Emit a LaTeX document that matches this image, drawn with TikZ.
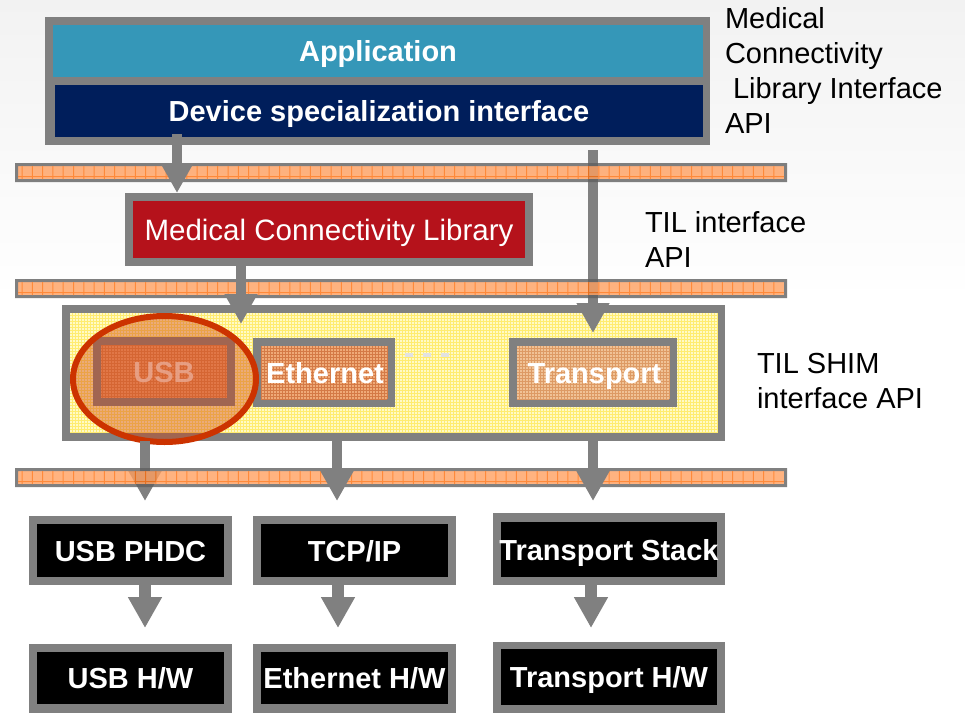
\documentclass[tikz,border=0pt]{standalone}
\usepackage{fontspec}
\setmainfont{Liberation Sans}
\usetikzlibrary{arrows.meta,shapes.geometric}
\definecolor{gry}{HTML}{808080}
\definecolor{appteal}{HTML}{3597B8}
\definecolor{devnavy}{HTML}{001E5B}
\definecolor{mclred}{HTML}{B5121B}
\definecolor{bandfill}{HTML}{FFA060}
\definecolor{bandline}{HTML}{FF6D09}
\definecolor{bandedge}{HTML}{606060}
\definecolor{tilfill}{HTML}{FFFAC6}
\definecolor{tilline}{HTML}{FFEC70}
\definecolor{ethfill}{HTML}{EFAA78}
\definecolor{ethline}{HTML}{D47A46}
\definecolor{trfill}{HTML}{F0C296}
\definecolor{trline}{HTML}{DD9A64}
\definecolor{usbfill}{HTML}{EFA070}
\definecolor{usbline}{HTML}{D9824E}
\definecolor{ringred}{HTML}{CC3300}
\definecolor{ringfill}{HTML}{D04010}
\definecolor{dashgrey}{HTML}{E2E2E2}
\definecolor{bgtop}{HTML}{F2F2F2}
\begin{document}
\begin{tikzpicture}[x=1pt,y=-1pt,
 every node/.style={inner sep=0pt,outer sep=0pt},
 gframe/.style={rectangle,fill=gry},
 inbox/.style={rectangle,text=white,font=\fontsize{29}{35}\selectfont\bfseries,text height=21pt,text depth=0pt},
 lbl/.style={anchor=base west,font=\fontsize{29}{35}\selectfont,text=black},
 barrow/.style={draw=gry,line width=10pt,-{Triangle[width=31pt,length=30pt]}},
 barrowb/.style={draw=gry,line width=12pt,-{Triangle[width=32pt,length=31pt]}},
 band/.style={rectangle,draw=bandedge,line width=3pt,fill=bandfill,minimum width=769pt,minimum height=16pt},
]
\clip (0,0) rectangle (965,712);
\shade[top color=bgtop,bottom color=white] (0,0) rectangle (965,300);

% ---------- top block
\node[gframe,minimum width=665pt,minimum height=128pt] (topF) at (377.5,81) {};
\node[inbox,fill=appteal,minimum width=650pt,minimum height=52pt] (app) at (378,51) {Application};
\node[inbox,fill=devnavy,minimum width=648pt,minimum height=52pt] (dev) at (379,111) {Device specialization interface};

% ---------- MCL
\node[gframe,minimum width=408pt,minimum height=73pt] (mclF) at (329,229.5) {};
\node[inbox,fill=mclred,minimum width=392pt,minimum height=57pt,font=\fontsize{29.5}{35}\selectfont] (mcl) at (329,229.5) {Medical Connectivity Library};

% ---------- TIL block
\node[gframe,minimum width=663pt,minimum height=136pt] (tilF) at (393.5,373) {};
\node[rectangle,fill=tilfill,minimum width=647pt,minimum height=120pt] (til) at (393.5,373) {};
\draw[tilline,line width=0.6pt,step=3pt] (til.south west) grid (til.north east);

% USB
\node[gframe,minimum width=142pt,minimum height=69pt] (usbF) at (164,371.5) {};
\node[rectangle,fill=usbfill,minimum width=126pt,minimum height=53pt] (usbB) at (164,371.5) {};
\draw[usbline,line width=0.6pt,step=3pt] (usbB.south west) grid (usbB.north east);
\node[inbox,text opacity=0.75] (usb) at (164,372) {USB};

% Ethernet
\node[gframe,minimum width=142pt,minimum height=69pt] (ethF) at (324,372.5) {};
\node[rectangle,fill=ethfill,minimum width=126pt,minimum height=53pt] (ethB) at (324,372.5) {};
\draw[ethline,line width=0.6pt,step=3pt] (ethB.south west) grid (ethB.north east);
\node[inbox] (eth) at (325,372.5) {Ethernet};

% Transport
\node[gframe,minimum width=168pt,minimum height=69pt] (trF) at (593,372.5) {};
\node[rectangle,fill=trfill,minimum width=152pt,minimum height=53pt] (trB) at (593,372.5) {};
\draw[trline,line width=0.6pt,step=3pt] (trB.south west) grid (trB.north east);
\node[inbox] (tr) at (594.5,372.5) {Transport};

% dashes
\draw[dashgrey,line width=4pt,dash pattern=on 8pt off 10pt] (405,355) -- (449,355);

% highlight ring
\node[ellipse,draw=ringred,line width=6pt,fill=ringfill,fill opacity=0.42,minimum width=183pt,minimum height=126pt] (ring) at (164.5,379) {};

% ---------- arrows under the bands
\coordinate (a3s) at (593,150); \coordinate (a3e) at (593,333);
\coordinate (a4s) at (145,441); \coordinate (a4e) at (145,501);
\draw[barrow] (a3s) -- (a3e);
\draw[barrow] (a4s) -- (a4e);

% ---------- bands
\begin{scope}[transparency group,opacity=0.8]
 \node[band] (band1) at (401,172.5) {};
 \node[band] (band2) at (401,288.5) {};
 \node[band] (band3) at (401,477.5) {};
 \foreach \b in {172.5,288.5,477.5}{
   \foreach \i in {0,...,73}{\draw[bandline,line width=1pt] (22+\i*10.3,\b-6.5) -- (22+\i*10.3,\b+6.5);}
   \draw[bandline,line width=1pt] (18,\b+4) -- (784,\b+4);
 }
\end{scope}

% ---------- arrows over the bands
\coordinate (a1s) at (177,134); \coordinate (a1e) at (177,193);
\coordinate (a2s) at (241,266); \coordinate (a2e) at (241,324);
\coordinate (a5s) at (337,441); \coordinate (a5e) at (337,501);
\coordinate (a6s) at (593,441); \coordinate (a6e) at (593,501);
\draw[barrow] (a1s) -- (a1e);
\draw[barrow] (a2s) -- (a2e);
\draw[barrow] (a5s) -- (a5e);
\draw[barrow] (a6s) -- (a6e);

% ---------- bottom boxes
\node[gframe,minimum width=203pt,minimum height=69pt] (phdcF) at (130.5,550.5) {};
\node[inbox,fill=black,minimum width=187pt,minimum height=53pt] (phdc) at (130.5,550.5) {USB PHDC};
\node[gframe,minimum width=203pt,minimum height=69pt] (tcpF) at (354.5,550.5) {};
\node[inbox,fill=black,minimum width=187pt,minimum height=53pt] (tcp) at (354.5,550.5) {TCP/IP};
\node[gframe,minimum width=232pt,minimum height=72pt] (tsF) at (609,549) {};
\node[inbox,fill=black,minimum width=216pt,minimum height=55pt] (ts) at (609,549.5) {\makebox[0pt]{Transport Stack}};

\node[gframe,minimum width=203pt,minimum height=76pt] (usbhwF) at (130.5,682) {};
\node[inbox,fill=black,minimum width=187pt,minimum height=52pt] (usbhw) at (130.5,678) {USB H/W};
\node[gframe,minimum width=203pt,minimum height=76pt] (ethhwF) at (354.5,682) {};
\node[inbox,fill=black,minimum width=187pt,minimum height=52pt] (ethhw) at (354.5,678) {\makebox[0pt]{Ethernet H/W}};
\node[gframe,minimum width=232pt,minimum height=78pt] (trhwF) at (609,681) {};
\node[inbox,fill=black,minimum width=216pt,minimum height=56pt] (trhw) at (609,677) {Transport H/W};

\coordinate (a7s) at (145,585); \coordinate (a7e) at (145,628);
\coordinate (a8s) at (338,585); \coordinate (a8e) at (338,628);
\coordinate (a9s) at (591,585); \coordinate (a9e) at (591,628);
\draw[barrowb] (a7s) -- (a7e);
\draw[barrowb] (a8s) -- (a8e);
\draw[barrowb] (a9s) -- (a9e);

% ---------- side labels
\node[lbl] (l1a) at (725,28) {Medical};
\node[lbl] (l1b) at (725,63) {Connectivity};
\node[lbl] (l1c) at (733,98) {Library Interface};
\node[lbl] (l1d) at (725,133) {API};
\node[lbl] (l2a) at (645,232) {TIL interface};
\node[lbl] (l2b) at (645,267) {API};
\node[lbl] (l3a) at (757,373) {TIL SHIM};
\node[lbl] (l3b) at (757,408) {interface API};
\end{tikzpicture}
\end{document}
